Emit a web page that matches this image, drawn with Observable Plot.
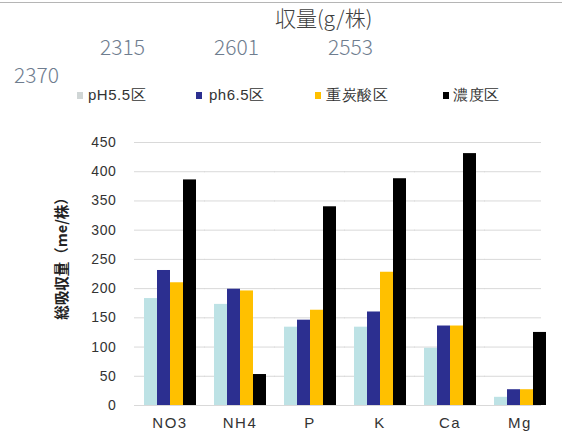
<!DOCTYPE html>
<html><head><meta charset="utf-8">
<script src="https://cdn.jsdelivr.net/npm/d3@7"></script>
<script src="https://cdn.jsdelivr.net/npm/@observablehq/plot@0.6"></script>
<style>
body{margin:0;background:#fff;}
#wrap{position:relative;width:562px;height:439px;overflow:hidden;font-family:"Noto Sans CJK JP",sans-serif;}
#head{position:relative;width:562px;height:114px;}
.abs{position:absolute;white-space:nowrap;line-height:1;}
#topline{position:absolute;left:0;top:2px;width:562px;height:1px;background:#b5b5b5;}
#title{left:275px;top:7px;font-size:21px;font-weight:300;color:#404040;}
.yld{font-size:21px;font-weight:300;color:#6f7d8f;}
.lg{font-family:"Liberation Sans",Arial,sans-serif;font-size:15px;letter-spacing:0.5px;color:#333;top:87px;}
.sw{position:absolute;width:6px;height:7px;top:92px;}
#ylab{position:absolute;left:60px;top:255px;transform:translate(-50%,-50%) rotate(-90deg);font-size:14.5px;font-weight:600;color:#222;white-space:nowrap;}
#chart{position:absolute;left:0;top:114px;}
</style></head>
<body><div id="wrap"><div id="head"><div id="topline"></div></div><div id="chart"></div></div>
<script>
// ---- data ----
const categories = ["NO3", "NH4", "P", "K", "Ca", "Mg"];
const seriesNames = ["pH5.5区", "ph6.5区", "重炭酸区", "濃度区"];
const seriesColors = ["#bde2e5", "#2c2f90", "#ffc000", "#000000"];
const legendSwatch = ["#d0d6d6", "#2c2f90", "#ffc000", "#000000"];
const ph55 = [183, 173, 134, 134, 98, 14];
const ph65 = [231, 199, 146, 160, 136, 27];
const bicarb = [210, 196, 163, 228, 136, 27];
const conc = [386, 53, 340, 388, 431, 125];
const yTicks = [0, 50, 100, 150, 200, 250, 300, 350, 400, 450];
const yieldTitle = "収量(g/株)";
const yieldLabels = ["2370", "2315", "2601", "2553"];
const yLabel = "総吸収量（me/株）";

// ---- header (HTML) ----
const head = document.getElementById("head");
function add(cls, text, left, top) {
  const d = document.createElement("div");
  d.className = "abs " + cls;
  d.textContent = text;
  d.style.left = left + "px";
  if (top != null) d.style.top = top + "px";
  head.appendChild(d);
  return d;
}
const t = add("", yieldTitle, 275, 7); t.id = "title";
const yldPos = [[14, 64], [100, 36], [214, 36], [328, 36]];
yieldLabels.forEach((v, i) => add("yld", v, yldPos[i][0], yldPos[i][1]));
const lgPos = [[77, 88], [196, 209], [315, 326], [443, 453]];
seriesNames.forEach((s, i) => {
  const sw = document.createElement("div");
  sw.className = "sw";
  sw.style.left = lgPos[i][0] + "px";
  sw.style.background = legendSwatch[i];
  head.appendChild(sw);
  add("lg", s, lgPos[i][1]);
});
const yl = document.createElement("div");
yl.id = "ylab"; yl.textContent = yLabel;
document.getElementById("wrap").appendChild(yl);

// ---- chart ----
const values = [ph55, ph65, bicarb, conc];
const data = categories.flatMap((c, i) => seriesNames.map((s, j) => ({cat: c, series: s, value: values[j][i]})));
const grid = categories.flatMap((c) => yTicks.map((y) => ({cat: c, y})));
const lastCat = categories[categories.length - 1];

const chart = Plot.plot({
  width: 562, height: 325,
  marginTop: 28, marginBottom: 34, marginLeft: 133, marginRight: 6,
  style: {fontFamily: "'Liberation Sans', Arial, sans-serif", color: "#333", background: "transparent"},
  fx: {domain: categories, paddingInner: 0.25, paddingOuter: 0.125, label: null, axis: null},
  x: {domain: seriesNames, padding: 0, axis: null},
  y: {domain: [0, 450], axis: null},
  color: {domain: seriesNames, range: seriesColors},
  marks: [
    Plot.ruleY(grid.filter((d) => d.cat !== lastCat), {fx: "cat", y: "y", stroke: "#d9d9d9", insetLeft: -9, insetRight: -9}),
    Plot.ruleY(grid.filter((d) => d.cat === lastCat), {fx: "cat", y: "y", stroke: "#d9d9d9", insetLeft: -9, insetRight: 5}),
    Plot.barY(data, {fx: "cat", x: "series", y: "value", fill: "series"}),
    Plot.axisFx({anchor: "bottom", tickSize: 0, tickPadding: 12, fontSize: 15, label: null}),
    Plot.axisY({ticks: yTicks, tickSize: 0, tickPadding: 27, fontSize: 14, label: null})
  ]
});
document.getElementById("chart").appendChild(chart);
d3.select(chart).selectAll('[aria-label="fx-axis tick label"] text').style("letter-spacing", "1.5px");
d3.select(chart).selectAll('[aria-label="y-axis tick label"] text').style("letter-spacing", "0.6px");
</script></body></html>
